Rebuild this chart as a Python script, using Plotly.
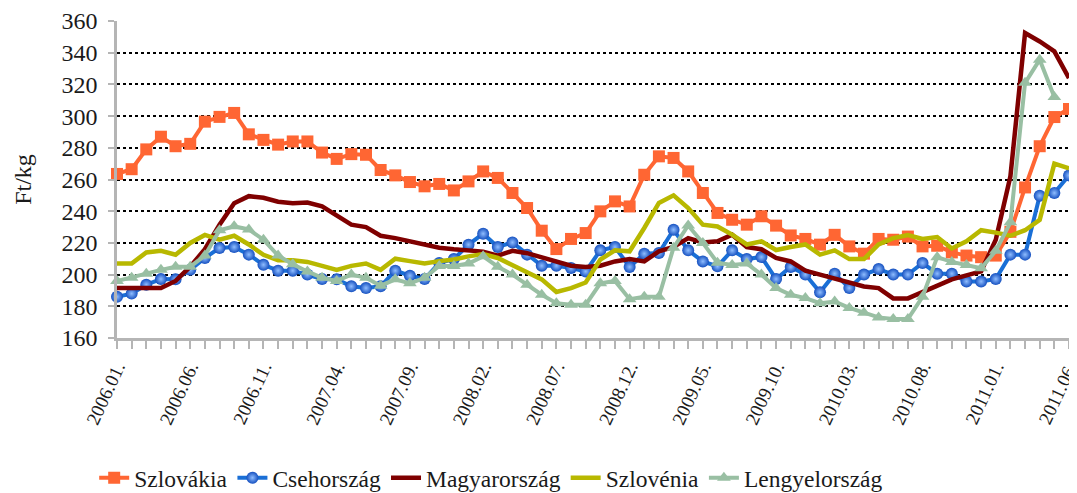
import plotly.graph_objects as go

months = [f"{y}.{m:02d}." for y in range(2006, 2012) for m in range(1, 13)][:66]

szlovakia = [263.5, 266.5, 279, 287, 281, 282.5, 296.5, 299.5, 302, 288.5,
             285, 282, 284, 284, 277, 273, 276, 275.6, 266, 262.6,
             258.4, 255.7, 257.2, 253.1, 258.8, 265.1, 261, 251.5, 242, 227.7,
             216.1, 222.5, 226.2, 239.9, 246.2, 243, 263, 274.6, 273.6, 265.1,
             251.5, 238.9, 234.6, 231.5, 236.8, 230.9, 224.7, 222.5, 218.9, 225.1,
             217.8, 213.2, 222.5, 222, 224, 217.8, 218.2, 214, 212, 211,
             212, 227, 255, 281, 299.4, 304.5]

cseh = [186, 188, 193.6, 197.2, 197, 203, 210.5, 216.8, 217.4, 212.6,
        206.2, 202.5, 202.5, 200, 197.2, 197, 192.6, 191.5, 192.6, 202.5,
        199.3, 197.2, 207.3, 209.8, 218.9, 225.8, 217.4, 220.3, 212.6, 205.6,
        205.6, 204.2, 202, 215.3, 217.4, 204.8, 213.2, 213.6, 228.3, 215.3,
        208.3, 205.2, 215.3, 209.8, 211.1, 197.2, 204.8, 200, 188.8, 200.6,
        191.5, 200, 203.5, 200, 200, 207.3, 200.6, 200.6, 195.7, 195.7,
        197.2, 212.6, 212.6, 249.8, 251.5, 262.6]

magyar = [191.5, 191.5, 191.5, 191.5, 196, 205, 216, 231.5, 245, 249.5,
          248.5, 246, 245, 245.5, 243, 237.5, 231.5, 230, 224.5, 223,
          221, 219, 217, 216, 215, 214.5, 212, 215, 213.5, 211,
          208.3, 205.6, 204.8, 205.6, 208.3, 209.8, 208.3, 214.7, 217.4, 223,
          220.3, 221, 225.2, 217.4, 216, 210.5, 208.3, 202.5, 200, 197.5,
          194.5, 192.5, 191.5, 185, 185, 189, 193, 197, 199.5, 202,
          222, 262, 352.4, 347.1, 340.8, 324]

szlovenia = [207, 207, 214, 215, 212.5, 220, 225, 222, 224.5, 219,
             212.5, 209, 209, 208, 205.5, 203, 205.5, 207, 203, 210,
             208.5, 207, 208.5, 209.5, 211.5, 213, 210.5, 206, 202, 197,
             189, 191.5, 195, 209.5, 215.3, 214.7, 229.4, 245.2, 250, 242,
             231.5, 230.4, 225.2, 219, 221, 215.5, 217.4, 219, 212.6, 215.3,
             209.8, 209.8, 219, 223, 225, 222.5, 223.7, 216.5, 221, 228,
             226.5, 224.5, 228, 234.5, 270, 267]

lengyel = [196, 198, 200.6, 203, 205, 205, 212, 228, 230.5, 228.5,
           222, 212, 206.5, 202, 198, 196, 200, 198, 193, 197,
           194.5, 198, 205.5, 205.5, 207, 211.5, 205, 200, 193.6, 187.3,
           182, 181, 181, 194.5, 196, 184.5, 186, 186, 217, 231,
           220, 207.5, 206, 207, 200, 191.5, 187.3, 185.2, 182, 183,
           179, 176, 173, 172, 172, 186, 211, 208, 206, 204,
           215, 233, 321, 335.6, 312, None]

tick_labels = [m if i % 5 == 0 else "" for i, m in enumerate(months)]

FONT = "Liberation Serif"

fig = go.Figure()
fig.add_trace(go.Scatter(x=months, y=szlovakia, name="Szlovákia", mode="lines+markers",
                         line=dict(color="#FF6633", width=4),
                         marker=dict(symbol="square", size=12, color="#FF6633"),
                         cliponaxis=False))
fig.add_trace(go.Scatter(x=months, y=cseh, name="Csehország", mode="lines+markers",
                         line=dict(color="#1A6FD6", width=4),
                         marker=dict(symbol="circle", size=12, color="#1550C0",
                                     gradient=dict(type="radial", color="#8FBDFF")),
                         cliponaxis=False))
fig.add_trace(go.Scatter(x=months, y=magyar, name="Magyarország", mode="lines",
                         line=dict(color="#7F0000", width=4.5),
                         cliponaxis=False))
fig.add_trace(go.Scatter(x=months, y=szlovenia, name="Szlovénia", mode="lines",
                         line=dict(color="#B8B800", width=4.5),
                         cliponaxis=False))
fig.add_trace(go.Scatter(x=months, y=lengyel, name="Lengyelország", mode="lines+markers",
                         line=dict(color="#99BFA3", width=4),
                         marker=dict(symbol="triangle-up", size=12, color="#99BFA3"),
                         cliponaxis=False))

# page body has an 8px margin: figure is sized/offset to compensate
fig.update_layout(
    width=1069, height=485,
    margin=dict(l=109, r=8, t=13, b=155, autoexpand=False),
    plot_bgcolor="white", paper_bgcolor="white",
    font=dict(family=FONT, size=22, color="#1a1a1a"),
    showlegend=True,
    legend=dict(orientation="h", xref="container", yref="container",
                x=0.452, xanchor="center", y=0.031, yanchor="middle",
                font=dict(family=FONT, size=23.5), itemwidth=30,
                traceorder="normal"),
)
fig.update_xaxes(
    type="category", range=[0, 65], automargin=False,
    tickmode="array", tickvals=months, ticktext=tick_labels,
    tickangle=-65, ticks="outside", ticklen=8, tickwidth=1.5, tickcolor="#b5b5b5",
    showline=True, linecolor="#b5b5b5", linewidth=2.5,
    showgrid=False, tickfont=dict(family=FONT, size=19),
)
fig.update_yaxes(
    range=[160, 360], dtick=20, tick0=160, automargin=False,
    ticks="outside", ticklen=6, tickwidth=1.5, tickcolor="#b5b5b5",
    showline=True, linecolor="#b5b5b5", linewidth=2.5,
    showgrid=True, gridcolor="black", gridwidth=2, griddash="3px,3px",
    zeroline=False, tickfont=dict(family=FONT, size=24), ticklabelstandoff=6,
    title=dict(text="Ft/kg", font=dict(family=FONT, size=24), standoff=24),
)

fig.write_html("out.html")
